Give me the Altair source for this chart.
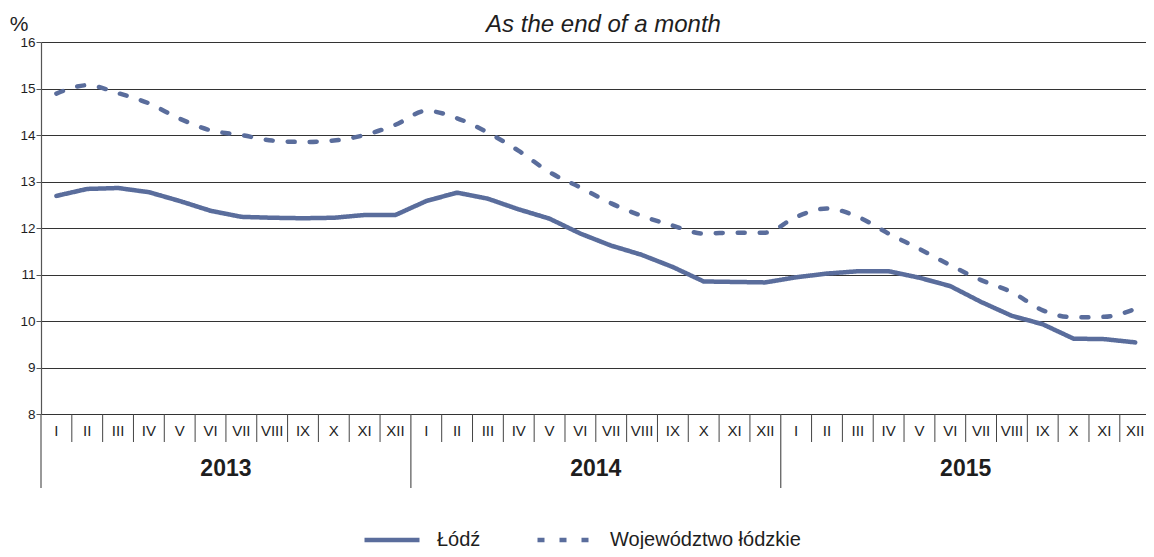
import altair as alt
import pandas as pd

# ---------------- data ----------------
months = ["I", "II", "III", "IV", "V", "VI", "VII", "VIII", "IX", "X", "XI", "XII"]
years = ["2013", "2014", "2015"]
series_names = ["Łódź", "Województwo łódzkie"]

lodz = [12.69, 12.84, 12.86, 12.77, 12.58, 12.37, 12.24, 12.22, 12.21, 12.22, 12.28, 12.28,
        12.58, 12.76, 12.63, 12.40, 12.20, 11.88, 11.62, 11.42, 11.16, 10.85, 10.84, 10.83,
        10.94, 11.02, 11.07, 11.07, 10.93, 10.75, 10.41, 10.11, 9.93, 9.62, 9.61, 9.54]
wojewodztwo = [14.89, 15.07, 14.90, 14.68, 14.35, 14.10, 14.00, 13.88, 13.85, 13.88, 14.00, 14.22,
               14.52, 14.36, 14.05, 13.66, 13.20, 12.87, 12.53, 12.26, 12.05, 11.88, 11.90, 11.90,
               12.24, 12.42, 12.24, 11.88, 11.55, 11.20, 10.88, 10.62, 10.23, 10.08, 10.09, 10.26]
y_ticks = [8, 9, 10, 11, 12, 13, 14, 15, 16]
title_text = "As the end of a month"
unit_text = "%"

# ---------------- style ----------------
W, H = 1105, 372
LINE_COLOR = "#5a6d9c"
TEXT_COLOR = "#1e1e1e"
GRID_COLOR = "#333333"
FONT = "Liberation Sans, Arial, sans-serif"

n = len(months) * len(years)
rows = []
for s, vals in zip(series_names, [lodz, wojewodztwo]):
    for i, v in enumerate(vals):
        rows.append({"pos": i + 0.5, "series": s, "value": v})
df = pd.DataFrame(rows)

month_df = pd.DataFrame({
    "pos": [i + 0.5 for i in range(n)],
    "label": [months[i % 12] for i in range(n)],
})
sep_df = pd.DataFrame({"pos": [i for i in range(1, n) if i % 12 != 0]})
ysep_df = pd.DataFrame({"pos": [i * 12 for i in range(len(years))]})
year_df = pd.DataFrame({"pos": [i * 12 + 6 for i in range(len(years))], "label": years})

xscale = alt.Scale(domain=[0, 35.85], nice=False, zero=False)
yscale = alt.Scale(domain=[8, 16], nice=False, zero=False)
dash_scale = alt.Scale(domain=series_names, range=[[1, 0], [7, 15]])

legend = alt.Legend(
    orient="none", legendX=321, legendY=468, direction="horizontal", columns=2,
    title=None, symbolType="stroke", symbolSize=3025, symbolStrokeWidth=4.5,
    symbolStrokeColor=LINE_COLOR, labelFont=FONT, labelFontSize=20,
    labelColor=TEXT_COLOR, labelOffset=15, columnPadding=47, padding=0,
    labelLimit=400,
)

base_line = alt.Chart(df)

grid_layer = alt.Chart(df).mark_point(opacity=0).encode(
    x=alt.X("pos:Q", scale=xscale, axis=None),
    y=alt.Y("value:Q", scale=yscale, axis=alt.Axis(
        values=y_ticks, grid=True, gridColor=GRID_COLOR, gridWidth=1.1,
        domainColor="#555555", domainWidth=1.2, tickColor="#555555", tickSize=5,
        labelFont=FONT, labelFontSize=13.5, labelColor=TEXT_COLOR,
        labelPadding=1, title=None)),
)

solid = base_line.transform_filter(alt.datum.series == series_names[0]).mark_line(
    color=LINE_COLOR, strokeWidth=4.5, strokeCap="round", strokeJoin="round"
).encode(
    x=alt.X("pos:Q", scale=xscale, axis=None),
    y=alt.Y("value:Q", scale=yscale),
    strokeDash=alt.StrokeDash("series:N", scale=dash_scale, legend=legend),
)

dashed = base_line.transform_filter(alt.datum.series == series_names[1]).mark_line(
    color=LINE_COLOR, strokeWidth=4.5, strokeCap="round", interpolate="monotone"
).encode(
    x=alt.X("pos:Q", scale=xscale, axis=None),
    y=alt.Y("value:Q", scale=yscale),
    strokeDash=alt.StrokeDash("series:N", scale=dash_scale, legend=legend),
)

month_seps = alt.Chart(sep_df).mark_rule(color="#444444", strokeWidth=1).encode(
    x=alt.X("pos:Q", scale=xscale, axis=None), y=alt.value(H), y2=alt.value(H + 28)
)
year_seps = alt.Chart(ysep_df).mark_rule(color="#555555", strokeWidth=1.2).encode(
    x=alt.X("pos:Q", scale=xscale, axis=None), y=alt.value(H), y2=alt.value(H + 74)
)
month_labels = alt.Chart(month_df).mark_text(
    font=FONT, fontSize=15, color=TEXT_COLOR, baseline="middle"
).encode(x=alt.X("pos:Q", scale=xscale, axis=None), y=alt.value(H + 17), text="label:N")
year_labels = alt.Chart(year_df).mark_text(
    font=FONT, fontSize=23, fontWeight="bold", color=TEXT_COLOR, baseline="middle"
).encode(x=alt.X("pos:Q", scale=xscale, axis=None), y=alt.value(H + 55), text="label:N")

title_mark = alt.Chart(alt.Data(values=[{"t": title_text}])).mark_text(
    font=FONT, fontSize=24, fontStyle="italic", color=TEXT_COLOR, baseline="alphabetic"
).encode(x=alt.value(W / 2 + 10), y=alt.value(-10), text="t:N")
unit_mark = alt.Chart(alt.Data(values=[{"t": unit_text}])).mark_text(
    font=FONT, fontSize=21, color=TEXT_COLOR, baseline="alphabetic"
).encode(x=alt.value(-22), y=alt.value(-11), text="t:N")

chart = alt.layer(
    grid_layer, month_seps, year_seps, solid, dashed, month_labels, year_labels,
    title_mark, unit_mark,
).properties(
    width=W, height=H,
    padding={"left": 33, "top": 34, "right": 0, "bottom": 135},
    autosize=alt.AutoSizeParams(type="none"),
).configure_view(stroke=None).configure(background="white")

chart.save("out.html", embed_options={"renderer": "svg", "actions": False})
